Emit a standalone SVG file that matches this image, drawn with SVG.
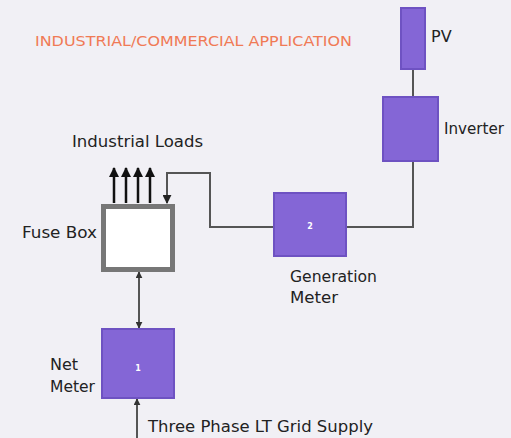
<svg xmlns="http://www.w3.org/2000/svg" width="511" height="438" viewBox="0 0 511 438">
  <defs>
    <style>
      .lbl { font-family: "DejaVu Sans", Verdana, sans-serif; font-size: 16px; fill: #222; }
      .num { font-family: "DejaVu Sans", sans-serif; font-size: 8px; font-weight: bold; fill: #fff; text-anchor: middle; }
      .meter { fill: #8466d6; stroke: #6e52c2; stroke-width: 2; }
      .wire { fill: none; stroke: #555; stroke-width: 2; }
      .load { fill: none; stroke: #111; stroke-width: 2.5; }
    </style>
    <marker id="ah" viewBox="0 0 10 10" refX="9" refY="5" markerWidth="3.5" markerHeight="3.5" orient="auto-start-reverse" markerUnits="strokeWidth">
      <path d="M0,0 L10,5 L0,10 Z" fill="#333"/>
    </marker>
    <marker id="ahb" viewBox="0 0 10 10" refX="9" refY="5" markerWidth="4.5" markerHeight="4.5" orient="auto" markerUnits="strokeWidth">
      <path d="M0,0 L10,5 L0,10 Z" fill="#222"/>
    </marker>
    <marker id="ahl" viewBox="0 0 10 10" refX="9" refY="5" markerWidth="4" markerHeight="4" orient="auto" markerUnits="strokeWidth">
      <path d="M0,0 L10,5 L0,10 Z" fill="#111"/>
    </marker>
  </defs>
  <rect width="511" height="438" fill="#f1f0f5"/>

  <text x="35" y="46" font-family="DejaVu Sans, Verdana, sans-serif" font-size="14" fill="#f07a55" textLength="317" lengthAdjust="spacingAndGlyphs">INDUSTRIAL/COMMERCIAL APPLICATION</text>

  <g id="connectors">
    <line class="wire" x1="413" y1="69" x2="413" y2="97"/>
    <polyline class="wire" points="413,161 413,227 346,227"/>
    <polyline class="wire" points="274,227 210,227 210,173 167,173 167,203" marker-end="url(#ahb)"/>
    <line class="wire" x1="139" y1="272" x2="139" y2="328" marker-start="url(#ah)" marker-end="url(#ah)"/>
    <line class="wire" x1="137" y1="438" x2="137" y2="399" marker-end="url(#ah)"/>
    <line class="load" x1="114" y1="203" x2="114" y2="168" marker-end="url(#ahl)"/>
    <line class="load" x1="126" y1="203" x2="126" y2="168" marker-end="url(#ahl)"/>
    <line class="load" x1="138" y1="203" x2="138" y2="168" marker-end="url(#ahl)"/>
    <line class="load" x1="150" y1="203" x2="150" y2="168" marker-end="url(#ahl)"/>
  </g>

  <g id="pv">
    <rect class="meter" x="401" y="8" width="24" height="61"/>
    <text class="lbl" x="431" y="42">PV</text>
  </g>

  <g id="inverter">
    <rect class="meter" x="383" y="97" width="55" height="64"/>
    <text class="lbl" x="444" y="134" textLength="60" lengthAdjust="spacingAndGlyphs">Inverter</text>
  </g>

  <g id="loads">
    <text class="lbl" x="72" y="147" textLength="131" lengthAdjust="spacingAndGlyphs">Industrial  Loads</text>
  </g>

  <g id="fusebox">
    <rect x="103.5" y="206.5" width="69" height="63" fill="#fff" stroke="#777" stroke-width="5"/>
    <text class="lbl" x="22" y="238" textLength="75" lengthAdjust="spacingAndGlyphs">Fuse Box</text>
  </g>

  <g id="generation-meter">
    <rect class="meter" x="274" y="193" width="72" height="63"/>
    <text class="num" x="310" y="229">2</text>
    <text class="lbl" x="290" y="282" textLength="87" lengthAdjust="spacingAndGlyphs">Generation</text>
    <text class="lbl" x="290" y="303" textLength="48" lengthAdjust="spacingAndGlyphs">Meter</text>
  </g>

  <g id="net-meter">
    <rect class="meter" x="102" y="329" width="72" height="69"/>
    <text class="num" x="138" y="371">1</text>
    <text class="lbl" x="50" y="370">Net</text>
    <text class="lbl" x="50" y="392" textLength="45" lengthAdjust="spacingAndGlyphs">Meter</text>
  </g>

  <g id="grid">
    <text class="lbl" x="148" y="432" textLength="225" lengthAdjust="spacingAndGlyphs">Three Phase LT Grid Supply</text>
  </g>
</svg>
